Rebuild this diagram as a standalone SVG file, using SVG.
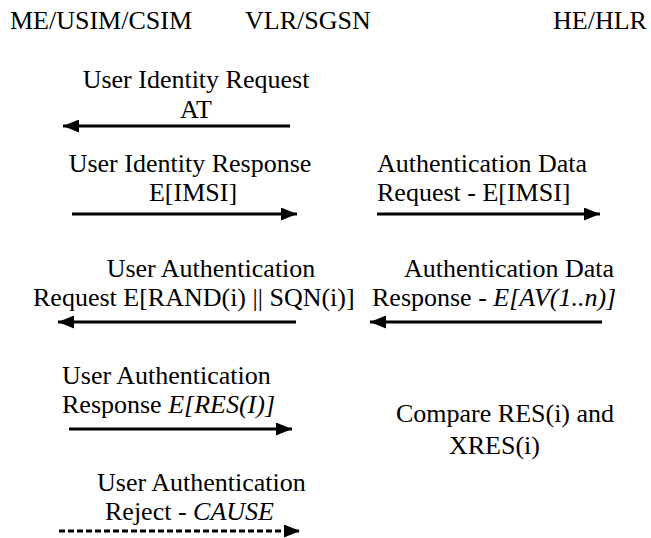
<svg xmlns="http://www.w3.org/2000/svg" width="651" height="538" viewBox="0 0 651 538">
<style>
text{font-family:'Liberation Serif','Times New Roman',serif;font-size:26px;fill:#000}
.c{text-anchor:middle}
.i{font-style:italic}
.ln{stroke:#000;stroke-width:2.8;fill:none}
.d{stroke-dasharray:6,3}
</style>
<defs>
<marker id="ah" viewBox="0 0 16 13" refX="16" refY="6.5" markerWidth="16" markerHeight="13" markerUnits="userSpaceOnUse" orient="auto">
<path d="M0,0 L16,6.5 L0,13 Z" fill="#000"/>
</marker>
</defs>
<g id="headers">
<text x="10" y="29">ME/USIM/CSIM</text>
<text x="245" y="29">VLR/SGSN</text>
<text x="553" y="29">HE/HLR</text>
</g>
<g id="m1"><text class="c" x="196" y="88">User Identity Request</text><text class="c" x="196" y="118">AT</text></g>
<g id="m2"><text class="c" x="190" y="172">User Identity Response</text><text class="c" x="193" y="201">E[IMSI]</text></g>
<g id="m3"><text x="377" y="172">Authentication Data</text><text x="377" y="201">Request - E[IMSI]</text></g>
<g id="m4"><text class="c" x="211" y="277">User Authentication</text><text x="33" y="306">Request E[RAND(i) || SQN(i)]</text></g>
<g id="m5"><text x="404" y="277">Authentication Data</text><text x="372" y="306">Response - <tspan class="i">E[AV(1..n)]</tspan></text></g>
<g id="m6"><text x="62" y="384">User Authentication</text><text x="62" y="413">Response <tspan class="i">E[RES(I)]</tspan></text></g>
<g id="cmp"><text x="396" y="422">Compare RES(i) and</text><text x="449" y="454">XRES(i)</text></g>
<g id="m7"><text x="97" y="491">User Authentication</text><text x="105" y="520">Reject - <tspan class="i">CAUSE</tspan></text></g>
<g id="connectors">
<line class="ln" x1="290" y1="126" x2="63" y2="126" marker-end="url(#ah)"/>
<line class="ln" x1="72" y1="214" x2="297" y2="214" marker-end="url(#ah)"/>
<line class="ln" x1="377" y1="214" x2="600" y2="214" marker-end="url(#ah)"/>
<line class="ln" x1="296" y1="322" x2="58" y2="322" marker-end="url(#ah)"/>
<line class="ln" x1="602" y1="322" x2="370" y2="322" marker-end="url(#ah)"/>
<line class="ln" x1="69" y1="429" x2="292" y2="429" marker-end="url(#ah)"/>
<line class="ln d" x1="59" y1="531" x2="300" y2="531" marker-end="url(#ah)"/>
</g>
</svg>
